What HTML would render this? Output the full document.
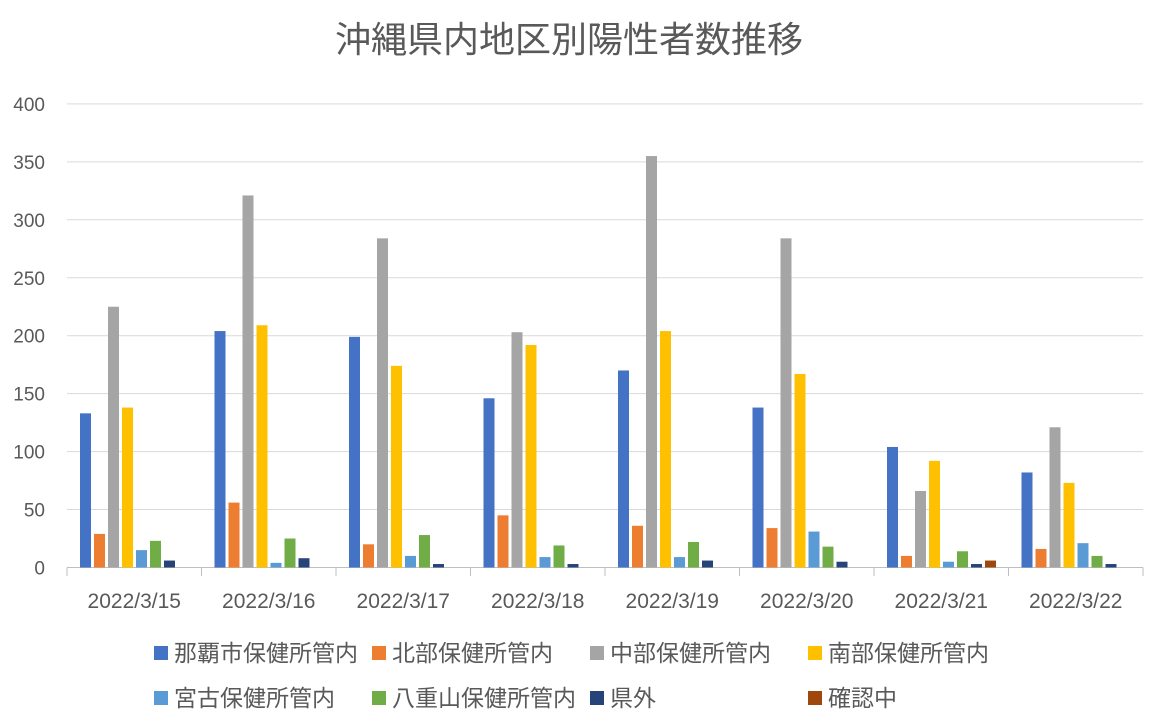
<!DOCTYPE html>
<html><head><meta charset="utf-8"><style>body{margin:0;background:#fff}svg{display:block}text{font-family:"Liberation Sans","Noto Sans CJK JP",sans-serif;fill:#595959}</style></head><body>
<svg width="1152" height="725" viewBox="0 0 1152 725">
<text x="569" y="52" font-size="36" text-anchor="middle">沖縄県内地区別陽性者数推移</text>
<g id="grid" stroke="#d9d9d9" stroke-width="1"></g>
<g id="bars"></g>
<g id="lab"></g>
<script>
const ns="http://www.w3.org/2000/svg";
function el(p,t,a,txt){const e=document.createElementNS(ns,t);for(const k in a)e.setAttribute(k,a[k]);if(txt!==undefined)e.textContent=txt;document.getElementById(p).appendChild(e);}
const y0=567.5,s=1.159;
for(let v=0;v<=400;v+=50){const y=y0-v*s;if(v>0)el('grid','line',{x1:67,x2:1143,y1:y,y2:y});el('lab','text',{x:45,y:y+7,'font-size':19,'text-anchor':'end'},v);}
el('grid','line',{x1:67,x2:1143,y1:y0,y2:y0,stroke:'#bfbfbf'});
const gw=134.5;
for(let i=0;i<=8;i++){const x=67+i*gw;el('grid','line',{x1:x,x2:x,y1:y0,y2:576,stroke:'#bfbfbf'});}
const C=['#4472C4','#ED7D31','#A5A5A5','#FFC000','#5B9BD5','#70AD47','#264478','#9E480E'];
const D=[[133,29,225,138,15,23,6,0],[204,56,321,209,4,25,8,0],[199,20,284,174,10,28,3,0],[146,45,203,192,9,19,3,0],[170,36,355,204,9,22,6,0],[138,34,284,167,31,18,5,0],[104,10,66,92,5,14,3,6],[82,16,121,73,21,10,3,0]];
const L=['2022/3/15','2022/3/16','2022/3/17','2022/3/18','2022/3/19','2022/3/20','2022/3/21','2022/3/22'];
D.forEach((r,g)=>{const gx=67+g*gw;r.forEach((v,i)=>{if(v>0)el('bars','rect',{x:gx+13+i*14,y:y0-v*s,width:11,height:v*s,fill:C[i]});});
el('lab','text',{x:gx+gw/2,y:608,'font-size':21,'text-anchor':'middle'},L[g]);});
const N=['那覇市保健所管内','北部保健所管内','中部保健所管内','南部保健所管内','宮古保健所管内','八重山保健所管内','県外','確認中'];
const LX=[154,372,590,808];
N.forEach((n,i)=>{const x=LX[i%4],y=i<4?646:691;el('lab','rect',{x:x,y:y,width:14,height:14,fill:C[i]});el('lab','text',{x:x+20,y:y+15,'font-size':23},n);});
</script>
</svg>
</body></html>
